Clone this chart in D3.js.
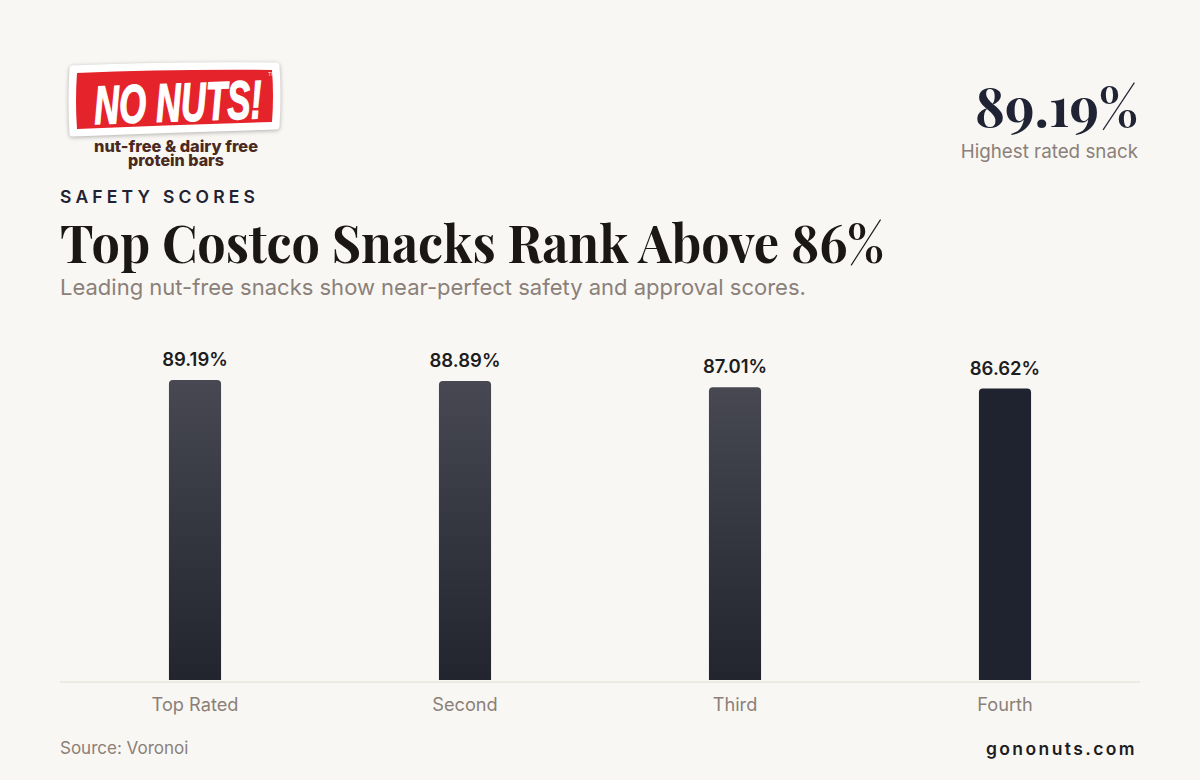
<!DOCTYPE html>
<html>
<head>
<meta charset="utf-8">
<script src="https://cdn.jsdelivr.net/npm/d3@7"></script>
<style>
  html, body { margin: 0; padding: 0; background: #f9f7f3; }
  svg { display: block; }
</style>
</head>
<body>
<svg id="chart" width="1200" height="780"></svg>
<script>
// chart data
var categories = ["Top Rated", "Second", "Third", "Fourth"];
var scores = [89.19, 88.89, 87.01, 86.62];
var valueLabels = ["89.19%", "88.89%", "87.01%", "86.62%"];

var width = 1200, height = 780;
var margin = {left: 60, right: 60};
var baseY = 680;

var sans = "Inter, 'Noto Sans', sans-serif";
var serif = "'Playfair Display', 'Liberation Serif', 'DejaVu Serif', serif";

var svg = d3.select("#chart");

svg.append("rect")
	.attr("width", width)
	.attr("height", height)
	.attr("fill", "#f9f7f3");

// gradients
var defs = svg.append("defs");
var grad = defs.append("linearGradient")
	.attr("id", "barGrad")
	.attr("x1", 0).attr("y1", 0).attr("x2", 0).attr("y2", 1);
grad.append("stop").attr("offset", "0%").attr("stop-color", "#474852");
grad.append("stop").attr("offset", "100%").attr("stop-color", "#22252d");

// ---- logo ----
var logo = svg.append("g").attr("transform", "translate(72,66)");
logo.append("path")
	.attr("d", "M1,3 Q100,-1 204,0 Q206,30 204,60 Q100,63 1,67 Q-1,35 1,3 Z")
	.attr("fill", "#ffffff")
	.attr("stroke", "#ffffff")
	.attr("stroke-width", 7)
	.attr("stroke-linejoin", "round")
	.style("filter", "drop-shadow(0px 1px 2px rgba(0,0,0,0.3))");
logo.append("path")
	.attr("d", "M5,7 Q100,3 200,4 Q202,30 200,56 Q100,59 5,63 Q3,35 5,7 Z")
	.attr("fill", "#e5232b");
logo.append("text")
	.attr("x", 106)
	.attr("y", 55)
	.attr("text-anchor", "middle")
	.attr("transform", "rotate(-2,106,36)")
	.attr("font-family", "'Liberation Sans Narrow', 'Liberation Sans', Arial, sans-serif")
	.attr("font-weight", 700)
	.attr("font-style", "italic")
	.attr("font-size", 54)
	.attr("textLength", 168)
	.attr("lengthAdjust", "spacingAndGlyphs")
	.attr("fill", "#ffffff")
	.attr("stroke", "#ffffff")
	.attr("stroke-width", 1.5)
	.text("NO NUTS!");
logo.append("text")
	.attr("x", 196).attr("y", 10)
	.attr("font-family", sans).attr("font-size", 5)
	.attr("fill", "#ffffff").text("TM");
var tag = logo.append("text")
	.attr("text-anchor", "middle")
	.attr("font-family", sans).attr("font-weight", 800)
	.attr("font-size", 16)
	.attr("fill", "#4a2a20");
tag.append("tspan").attr("x", 104).attr("y", 86)
	.attr("textLength", 164).attr("lengthAdjust", "spacingAndGlyphs")
	.text("nut-free & dairy free");
tag.append("tspan").attr("x", 104).attr("y", 100)
	.attr("textLength", 96).attr("lengthAdjust", "spacingAndGlyphs")
	.text("protein bars");

// ---- top right stat ----
svg.append("text")
	.attr("x", 1138).attr("y", 127)
	.attr("text-anchor", "end")
	.attr("font-family", serif).attr("font-weight", 700)
	.attr("font-size", 53.5)
	.attr("fill", "#1f2333")
	.text(valueLabels[0]);
svg.append("text")
	.attr("x", 1138).attr("y", 158)
	.attr("text-anchor", "end")
	.attr("font-family", sans)
	.attr("font-size", 18.8)
	.attr("fill", "#8a8079")
	.text("Highest rated snack");

// ---- headings ----
svg.append("text")
	.attr("x", 60).attr("y", 203)
	.attr("font-family", sans).attr("font-weight", 600)
	.attr("font-size", 17.5)
	.attr("letter-spacing", 4.2)
	.attr("fill", "#1f2333")
	.text("SAFETY SCORES");

var title = svg.append("text")
	.attr("x", 60).attr("y", 263)
	.attr("font-family", serif).attr("font-weight", 700)
	.attr("font-size", 52)
	.attr("fill", "#1a1714")
	.text("Top Costco Snacks Rank Above 86%");
title.attr("textLength", 824).attr("lengthAdjust", "spacingAndGlyphs");

svg.append("text")
	.attr("x", 60).attr("y", 295)
	.attr("font-family", sans)
	.attr("font-size", 22)
	.attr("fill", "#8a8079")
	.text("Leading nut-free snacks show near-perfect safety and approval scores.");

// ---- chart ----
var x = d3.scaleBand()
	.domain(categories)
	.range([margin.left, width - margin.right])
	.paddingInner(0.807)
	.paddingOuter(0.4035);

var y = d3.scaleLinear()
	.domain([0, 100])
	.range([baseY, baseY - 336.4]);

var bars = categories.map(function(c, i){ return {cat: c, value: scores[i], label: valueLabels[i], idx: i}; });

var barPath = function(d){
	var x0 = x(d.cat), w = x.bandwidth(), y0 = y(d.value), r = 4;
	return "M" + x0 + "," + baseY +
		"V" + (y0 + r) +
		"Q" + x0 + "," + y0 + " " + (x0 + r) + "," + y0 +
		"H" + (x0 + w - r) +
		"Q" + (x0 + w) + "," + y0 + " " + (x0 + w) + "," + (y0 + r) +
		"V" + baseY + "Z";
};

svg.append("g").selectAll("path")
	.data(bars)
	.enter().append("path")
	.attr("d", barPath)
	.attr("fill", function(d){ return d.idx === 3 ? "#1f2330" : "url(#barGrad)"; });

svg.append("g").selectAll("text")
	.data(bars)
	.enter().append("text")
	.attr("x", function(d){ return x(d.cat) + x.bandwidth() / 2; })
	.attr("y", function(d){ return y(d.value) - 14; })
	.attr("text-anchor", "middle")
	.attr("font-family", sans).attr("font-weight", 600)
	.attr("font-size", 18.5)
	.attr("fill", "#1d1d1f")
	.text(function(d){ return d.label; });

// axis
var xAxis = svg.append("g")
	.attr("transform", "translate(0," + (baseY + 2) + ")")
	.call(d3.axisBottom(x).tickSize(0).tickPadding(16));
xAxis.select(".domain")
	.attr("d", "M" + margin.left + ",0H" + (width - margin.right))
	.attr("stroke", "#e2ded5")
	.attr("stroke-width", 1.2);
xAxis.selectAll("text")
	.attr("font-family", sans)
	.attr("font-size", 18.2)
	.attr("fill", "#8a8079");

// ---- footer ----
svg.append("text")
	.attr("x", 60).attr("y", 754)
	.attr("font-family", sans)
	.attr("font-size", 17)
	.attr("fill", "#8a8079")
	.text("Source: Voronoi");
svg.append("text")
	.attr("x", 1137).attr("y", 755)
	.attr("text-anchor", "end")
	.attr("font-family", sans).attr("font-weight", 600)
	.attr("font-size", 17.5)
	.attr("letter-spacing", 2.4)
	.attr("fill", "#1d1d1f")
	.text("gononuts.com");
</script>
</body>
</html>
